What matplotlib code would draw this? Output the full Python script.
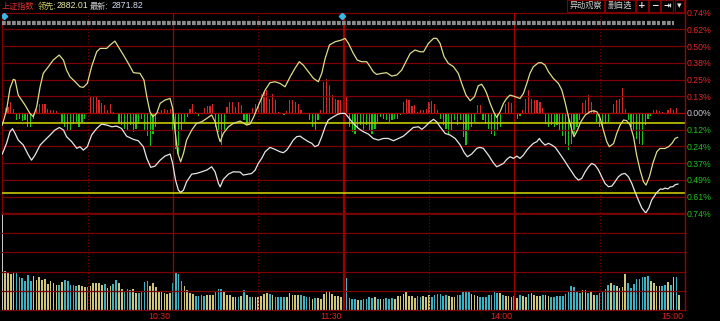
import matplotlib
matplotlib.use('Agg')
import matplotlib.pyplot as plt
import matplotlib.transforms as mtransforms
from matplotlib.patches import Rectangle
from matplotlib.lines import Line2D

# ---------------- data ----------------
index_name = '上证指数'
lead_label, lead_value = '领先:', '2882.01'
last_label, last_value = '最新:', '2871.82'
button_labels = ['异动观察', '删自选']
icon_labels = ['+', '−', '⇥', '▾']

pct_labels = ['0.74%', '0.62%', '0.50%', '0.38%', '0.25%', '0.13%', '0.00%',
              '0.12%', '0.24%', '0.37%', '0.49%', '0.61%', '0.74%']
pct_max = 0.74

time_ticks = [60, 120, 180, 240]
time_labels = ['10:30', '11:30', '14:00', '15:00']
half_hour_ticks = [30, 90, 150, 210]

# leading indicator (yellow) : minute, % change
lead_minutes = [0, 1.5, 2.7, 3.9, 4.5, 5.6, 6.8, 8.0, 9.7, 10.9, 12.1, 13.3, 14.4, 16.2, 17.9, 20.0,
                21.5, 22.6, 23.8, 25.6, 27.3, 28.5, 29.9, 31.4, 33.2, 34.4, 36.7, 37.9, 39.6, 40.8,
                42.6, 44.3, 46.1, 48.4, 49.8, 50.8, 51.9, 52.9, 54.3, 55.5, 57.2, 59.0, 59.9, 60.7,
                61.7, 62.7, 63.7, 64.8, 66.6, 68.3, 70.1, 71.9, 73.6, 74.8, 76.0, 76.6, 77.7, 79.5,
                81.2, 83.6, 85.9, 87.1, 88.3, 90.6, 92.4, 94.1, 95.9, 97.6, 99.4, 101.2, 102.9,
                104.4, 105.8, 107.6, 109.4, 111.1, 112.3, 113.5, 115.0, 117.0, 119.3, 120.5, 121.7,
                123.4, 124.8, 126.3, 128.1, 129.3, 130.4, 131.6, 133.4, 135.1, 136.9, 138.7, 140.4,
                141.6, 143.4, 145.1, 146.9, 148.1, 149.8, 151.6, 152.7, 153.9, 155.3, 156.8, 158.6,
                160.3, 161.5, 163.0, 164.5, 166.0, 167.3, 168.5, 169.5, 170.3, 171.5, 172.7, 173.8,
                175.0, 176.2, 177.3, 178.5, 180.3, 182.0, 183.2, 184.4, 185.5, 186.7, 188.5, 189.6,
                190.8, 192.0, 193.7, 195.5, 196.7, 197.8, 199.0, 200.2, 201.0, 202.2, 203.4, 204.9,
                206.6, 207.8, 209.0, 210.2, 211.3, 212.5, 213.4, 214.9, 216.0, 217.2, 218.4, 219.5,
                220.7, 221.9, 223.0, 224.2, 225.4, 226.3, 227.5, 228.7, 230.1, 231.2, 233.0, 234.2,
                235.4, 236.5, 237.4]
lead_pct = [-0.089, 0.021, 0.181, 0.248, 0.243, 0.132, 0.095, 0.058, -0.003, -0.028, 0.046, 0.193,
            0.292, 0.341, 0.390, 0.427, 0.390, 0.316, 0.267, 0.230, 0.193, 0.189, 0.218, 0.341,
            0.452, 0.476, 0.476, 0.501, 0.530, 0.488, 0.427, 0.366, 0.297, 0.292, 0.243, 0.120,
            0.009, -0.028, -0.003, 0.071, 0.095, 0.107, 0.034, -0.126, -0.298, -0.360, -0.298,
            -0.200, -0.126, -0.077, -0.065, -0.040, -0.015, -0.065, -0.175, -0.212, -0.151,
            -0.102, -0.077, -0.060, -0.089, -0.082, -0.033, 0.083, 0.169, 0.223, 0.230, 0.218,
            0.193, 0.267, 0.329, 0.378, 0.353, 0.304, 0.255, 0.230, 0.292, 0.402, 0.501, 0.525,
            0.538, 0.550, 0.513, 0.439, 0.390, 0.378, 0.378, 0.341, 0.304, 0.284, 0.292, 0.297,
            0.272, 0.280, 0.316, 0.366, 0.439, 0.464, 0.451, 0.451, 0.513, 0.550, 0.550, 0.513,
            0.415, 0.366, 0.341, 0.292, 0.218, 0.132, 0.090, 0.120, 0.200, 0.212, 0.180, 0.144,
            0.071, 0.009, -0.033, 0.009, 0.071, 0.107, 0.132, 0.120, 0.107, 0.144, 0.218, 0.292,
            0.341, 0.370, 0.370, 0.353, 0.304, 0.255, 0.218, 0.169, 0.083, -0.028, -0.126,
            -0.175, -0.126, -0.065, -0.016, 0.009, 0.016, 0.009, -0.040, -0.126, -0.212, -0.249,
            -0.225, -0.151, -0.089, -0.052, -0.057, -0.089, -0.175, -0.311, -0.421, -0.507,
            -0.532, -0.470, -0.372, -0.286, -0.262, -0.262, -0.249, -0.225, -0.188, -0.180]

# index (white) : minute, % change
index_minutes = [0, 1.5, 2.7, 3.6, 4.5, 5.6, 7.4, 9.2, 10.3, 11.5, 13.3, 15.0, 16.8, 18.5, 20.1,
                 21.5, 22.6, 24.4, 26.2, 27.3, 28.5, 29.9, 31.4, 33.2, 34.9, 36.7, 38.5, 40.2,
                 41.9, 43.7, 46.1, 47.8, 49.6, 50.8, 52.2, 53.7, 55.5, 57.2, 59.0, 59.9, 60.9,
                 61.9, 62.7, 63.7, 64.8, 66.6, 68.3, 70.1, 71.9, 73.6, 74.8, 76.0, 76.6, 77.7,
                 79.5, 81.2, 83.6, 84.7, 87.7, 88.9, 90.0, 91.2, 92.4, 94.1, 95.9, 97.6, 98.8,
                 100.0, 101.2, 102.3, 103.5, 104.7, 105.8, 107.6, 108.8, 109.9, 111.1, 112.3,
                 113.5, 114.6, 116.4, 118.1, 119.3, 120.5, 121.7, 123.4, 125.2, 126.9, 128.7,
                 130.4, 132.2, 134.0, 135.7, 137.5, 139.3, 141.0, 142.8, 144.5, 146.3, 147.5,
                 148.6, 150.4, 151.6, 152.7, 153.9, 155.7, 157.4, 159.2, 161.0, 162.4, 163.5,
                 165.0, 166.8, 167.9, 169.1, 170.9, 172.6, 173.8, 175.0, 176.2, 177.3, 178.5,
                 179.7, 180.9, 182.0, 183.2, 184.4, 185.5, 186.7, 187.9, 188.8, 189.6, 190.8,
                 192.0, 193.2, 194.4, 195.5, 196.7, 197.9, 199.0, 200.2, 201.3, 202.5, 203.7,
                 204.9, 206.1, 207.2, 208.4, 209.6, 210.7, 211.9, 213.1, 214.3, 215.4, 216.6,
                 217.8, 218.9, 220.1, 221.3, 222.4, 223.6, 224.8, 226.2, 227.3, 228.3, 229.9,
                 231.3, 232.2, 233.0, 234.0, 234.8, 235.8, 236.5, 237.5]
index_pct = [-0.303, -0.224, -0.138, -0.116, -0.151, -0.200, -0.237, -0.311, -0.348, -0.311,
             -0.237, -0.200, -0.163, -0.126, -0.107, -0.126, -0.175, -0.212, -0.261, -0.249,
             -0.274, -0.249, -0.163, -0.114, -0.082, -0.089, -0.102, -0.097, -0.114, -0.171,
             -0.195, -0.205, -0.249, -0.335, -0.401, -0.392, -0.348, -0.318, -0.303, -0.372,
             -0.495, -0.569, -0.586, -0.569, -0.507, -0.451, -0.446, -0.434, -0.421, -0.397,
             -0.434, -0.520, -0.545, -0.490, -0.451, -0.434, -0.436, -0.458, -0.446, -0.421,
             -0.372, -0.335, -0.286, -0.254, -0.269, -0.286, -0.293, -0.274, -0.237, -0.200,
             -0.175, -0.171, -0.188, -0.212, -0.224, -0.249, -0.237, -0.175, -0.102, -0.052,
             -0.028, -0.008, -0.003, -0.003, -0.033, -0.077, -0.114, -0.138, -0.156, -0.188,
             -0.200, -0.188, -0.188, -0.205, -0.188, -0.171, -0.138, -0.107, -0.102, -0.121,
             -0.102, -0.065, -0.047, -0.065, -0.102, -0.151, -0.163, -0.188, -0.237, -0.293,
             -0.323, -0.303, -0.261, -0.254, -0.261, -0.311, -0.367, -0.397, -0.385, -0.372,
             -0.343, -0.323, -0.335, -0.318, -0.335, -0.311, -0.274, -0.249, -0.224, -0.212,
             -0.188, -0.212, -0.237, -0.224, -0.237, -0.254, -0.286, -0.323, -0.360, -0.397,
             -0.434, -0.470, -0.495, -0.483, -0.434, -0.397, -0.372, -0.385, -0.421, -0.470,
             -0.520, -0.544, -0.539, -0.507, -0.470, -0.451, -0.446, -0.470, -0.520, -0.581,
             -0.642, -0.700, -0.738, -0.700, -0.642, -0.591, -0.561, -0.563, -0.554, -0.560,
             -0.546, -0.543, -0.530, -0.524]

# buy/sell strength per minute (red up / green down)
strength = [11, 5, 6, 11, 4, -7, -6, -8, -7, -14, -14, -6, 4, 9, 9, 9, 4, 3, 3, 2,
            0, -9, -14, -17, -17, -11, -9, -14, -9, -6, 0, 16, 17, 17, 13, 10, 8, 3, 9, 1,
            0, -11, -12, -16, -17, -12, -19, -16, -11, -6, -17, -23, -34, -21, -14, 1, 3, 4, 3, 4,
            -17, -36, -41, -17, -9, -4, 4, 9, 1, -3, 0, 5, 7, 7, 9, -14, -19, -32, -17, 6,
            11, 11, 6, 11, 8, -7, -12, -9, 5, 9, 9, 19, 21, 23, 14, 19, 13, 1, -1, -2,
            2, 13, 13, 11, 9, 3, 0, -1, -7, -14, -17, -7, 3, 31, 34, 28, 18, 14, 13, 13,
            18, 16, -14, -19, -21, -14, -12, -17, -12, -17, -21, -16, -9, -4, -6, -7, -9, -7, -6, -6,
            -2, 11, 14, 13, 7, 8, 1, 3, 3, 4, 11, 12, 9, 3, -6, -12, -16, -21, -17, -7,
            -12, -7, -24, -32, -17, -14, -9, 8, 8, -7, -11, -16, -21, -23, -17, -14, 0, 9, 11, 10,
            6, -6, -3, 3, 14, 23, 14, 13, 13, 11, 5, -11, -14, -12, -14, -12, -17, -23, -31, -37,
            -31, -21, -14, -7, 10, 13, 18, 11, 3, -9, -14, -14, -11, -9, 0, 9, 13, 14, 25, 4,
            -7, -14, -17, -26, -31, -32, -12, -6, -3, 3, 3, 2, 1, -1, 3, 5, 3, 5]

# volume per minute, with direction (w = opening auction, u = up, d = down)
volume = [96,
          39, 37.7, 36, 37, 37, 33.3, 32, 28.7, 34.7, 28.7,
          34, 30, 32.7, 30, 31.3, 26, 29.3, 27, 25, 25,
          28, 29.7, 29, 25, 25, 24.3, 25, 23.7, 23, 23,
          24.3, 27, 26.7, 26.7, 25, 26.3, 22.3, 24, 26.3, 30,
          27, 20.7, 19.3, 20.7, 20, 20.7, 17.3, 17.3, 19.3, 28,
          29, 24.3, 26.7, 22.7, 19.3, 18.3, 16.7, 16, 17, 27,
          37, 36, 29, 23.7, 20, 17, 15.7, 14.3, 14, 15.3,
          14, 14.7, 15, 14.7, 19.3, 21, 20.7, 18.7, 14.7, 15.3,
          13.3, 13, 12.7,
          13.7, 19.7, 15.3, 13, 13, 13, 12.7, 13.7, 15.7, 17,
          15.7, 15, 12.7, 12.7, 13, 13, 12.7, 17.3, 15.3, 15.3,
          15.3, 15, 14, 13, 13, 11.3, 12, 11.7, 11.3, 16,
          19, 18, 16, 14, 14, 12.7, 3, 32, 12, 10.7,
          10.7, 10, 10, 10.7, 11, 12.7, 12, 12.7, 11,
          11, 11, 12, 11, 11.7, 11, 14, 14, 16, 18,
          14, 14, 12, 14, 12.7, 14, 13.3, 15, 12.7, 14.7,
          16, 16, 14, 15, 13.7, 13, 13, 15, 15, 19,
          18, 19, 16, 15, 14,
          12.7, 12.7, 13.3, 14.7, 14.7, 18, 17, 16.7, 14.7, 14,
          14, 13, 14, 12, 14.7, 14, 13, 16, 16.7, 15.3,
          14, 14, 15, 15, 14, 12.7, 13.3, 14, 14, 14,
          15.7, 19.3, 24, 22.7, 19.3, 17.3, 20, 20, 17.3, 19,
          15.3, 14.7, 17.3, 19, 20.7, 25, 26.7, 24.7, 24, 21.7,
          22.7, 36, 26.7, 21.7, 26, 31.3, 31.3, 33.3, 32.7, 34,
          28.7, 26.7, 24, 24, 24, 25, 28, 25, 33.3, 33.3,
          14.7]
volume_dir = ("w" + "uuuu" + "dddddd" + "uuuuuuuuu" + "d" + "u" + "ddddd" + "uuu" + "d" + "uuuuu"
              + "d" + "uu" + "dd" + "uu" + "ddd" + "uu" + "dddd" + "uuuuuuuu" + "dddd" + "uuuu"
              + "dddd" + "uuu" + "ddd" + "uuuuu" + "d"
              + "udud" + "uuuuuu" + "d" + "u" + "dddd" + "uuuuu" + "dddd" + "u" + "d" + "uuuuuuuuuu"
              + "dddd" + "u" + "ddddd" + "u" + "d" + "u" + "dddd" + "uuuuuuuu"
              + "dd" + "uuu" + "dddddd" + "uuu" + "ddddd" + "uuu"
              + "ddddddd" + "u" + "d" + "uuu" + "d" + "u" + "d" + "uu" + "d" + "uuuu" + "d" + "uu"
              + "ddddddddddd" + "uu" + "d" + "uu" + "ddddd" + "u" + "d" + "uuuu" + "dddddddd"
              + "uuuu" + "dd" + "u" + "d" + "u" + "d" + "u")
volume_max = 96

ref_levels = [-0.076, -0.588]
event_minutes = [0.5, 119.5]
event_strip_segments = [(0, 226.0), (226.6, 231.3), (231.9, 236.2)]

# ---------------- figure ----------------
W, H = 720, 321
fig = plt.figure(figsize=(W / 100, H / 100), dpi=100, facecolor='black')


def fx(px):
    return px / W


def fy(py):
    return 1 - py / H


GRID = '#7e0000'
VSOLID = '#a00000'
X_LEFT, X_RIGHT = 2, 685
P_TOP, P_BOT = 12.6, 213.3
V_TOP, V_BOT = 214, 310
XLIM = (-0.1, 240.0)

rect_p = [fx(X_LEFT), fy(P_BOT), (X_RIGHT - X_LEFT) / W, (P_BOT - P_TOP) / H]
axb = fig.add_axes(rect_p, facecolor='black', zorder=0)
ax = fig.add_axes(rect_p, facecolor='none', zorder=1)
axv = fig.add_axes([fx(X_LEFT), fy(V_BOT), (X_RIGHT - X_LEFT) / W, (V_BOT - V_TOP) / H],
                   facecolor='black', zorder=0)

for a in (axb, ax, axv):
    a.set_xlim(*XLIM)
    for s in a.spines.values():
        s.set_visible(False)

# ---- background panel: grid + strength bars
half_px = (P_BOT - P_TOP) / 2
axb.set_ylim(-half_px, half_px)
axb.set_xticks([])
axb.set_yticks([])
for k in range(13):
    f = k / 12
    col = '#b00000' if k == 6 else GRID
    axb.plot([0, 1], [f, f], transform=axb.transAxes, color=col, lw=0.9, clip_on=False)
for m in half_hour_ticks:
    axb.axvline(m, color=GRID, lw=0.8, ls=(0, (1, 2)))
    axv.axvline(m, color=GRID, lw=0.8, ls=(0, (1, 2)))
for m in time_ticks[:-1]:
    w = 1.6 if m == 120 else 0.9
    axb.axvline(m, color=VSOLID, lw=w)
    axv.axvline(m, color=VSOLID, lw=w)
axb.plot([0, 0], [0, 1], transform=axb.transAxes, color=GRID, lw=0.9, clip_on=False)

bar_cols = ['#d42828' if s > 0 else '#18c418' for s in strength]
axb.bar(range(len(strength)), strength, width=0.42, color=bar_cols, linewidth=0)

# ---- foreground: lines, ticks
ax.set_ylim(-pct_max, pct_max)
for lv in ref_levels:
    ax.axhline(lv, color='#c8c800', lw=1.2)
ax.plot(lead_minutes, lead_pct, color='#dcdc8c', lw=0.9)
ax.plot(index_minutes, index_pct, color='#e6e6e6', lw=0.9)
for a, b in event_strip_segments:
    ax.plot([a, b], [0.6655, 0.6655], color='#8c8c8c', lw=3.0, ls=(0, (0.9, 0.3)),
            dash_capstyle='butt', solid_capstyle='butt')
ax.plot(event_minutes, [0.715] * len(event_minutes), 'D', color='#38b8e8', ms=3.2, ls='none')

ticks = [pct_max * k / 6 for k in range(6, -7, -1)]
ax.yaxis.tick_right()
ax.set_yticks(ticks)
ax.set_yticklabels(pct_labels)
ax.set_xticks([])
ax.tick_params(axis='y', length=0, pad=1.5, labelsize=6.3)
for lbl, t in zip(ax.get_yticklabels(), ticks):
    lbl.set_fontfamily(['Liberation Sans', 'DejaVu Sans'])
    lbl.set_color('#e02828' if t > 1e-9 else ('#20c020' if t < -1e-9 else '#c8c8d0'))

# ---- volume panel
axv.set_ylim(0, volume_max)
for k in range(1, 6):
    axv.axhline(volume_max * k / 5, color=GRID, lw=0.9 if k < 5 else 1.3, clip_on=False)
axv.axhline(0, color=GRID, lw=0.9, clip_on=False)
vcol = {'w': '#c8c8c8', 'u': '#cfc67a', 'd': '#3cb2c2'}
axv.bar(range(len(volume)), volume, width=0.58,
        color=[vcol[d] for d in volume_dir], linewidth=0)
axv.set_yticks([])
axv.set_xticks(time_ticks)
axv.set_xticklabels(time_labels)
axv.tick_params(axis='x', length=0, pad=1.5, labelsize=6.3, labelcolor='#e02020')
shift = mtransforms.ScaledTranslation(-2.2 / 100, 0, fig.dpi_scale_trans)
for lbl in axv.get_xticklabels():
    lbl.set_ha('right')
    lbl.set_fontfamily(['Liberation Sans', 'DejaVu Sans'])
    lbl.set_transform(lbl.get_transform() + shift)

# right border
fig.add_artist(Line2D([fx(684.5)] * 2, [fy(0), fy(V_BOT)], transform=fig.transFigure,
                      color=VSOLID, lw=1.0))

# ---- header
CJK = ['Noto Sans CJK SC', 'DejaVu Sans']
NUM = ['Liberation Sans', 'DejaVu Sans']
hy = fy(6)
fig.text(fx(2), hy, index_name, color='#e03030', fontsize=5.9, family=CJK, va='center')
fig.text(fx(37.5), hy, lead_label, color='#d0d060', fontsize=5.9, family=CJK, va='center')
fig.text(fx(56.5), hy, lead_value, color='#e6e6a8', fontsize=6.3, family=NUM, va='center')
fig.text(fx(90), hy, last_label, color='#d0d0d0', fontsize=5.9, family=CJK, va='center')
fig.text(fx(111.5), hy, last_value, color='#d4dcf4', fontsize=6.3, family=NUM, va='center')

boxes = [(567.3, 604.0), (605.0, 635.0), (636.0, 648.3), (649.3, 660.0), (661.0, 673.3), (675.0, 684.0)]
labels = button_labels + icon_labels
for (a, b), t in zip(boxes, labels):
    fig.add_artist(Rectangle((fx(a), fy(11.7)), (b - a) / W, 11.7 / H, transform=fig.transFigure,
                             facecolor='black', edgecolor='#800000', lw=0.8))
    is_icon = t in icon_labels
    fig.text(fx((a + b) / 2), fy(5.8), t, color='#e8e8e8' if is_icon else '#d0d0d0',
             fontsize=6.5 if is_icon else 5.9, family=(['DejaVu Sans'] if is_icon else CJK),
             fontweight='bold' if is_icon else 'normal', ha='center', va='center')

fig.savefig('out.png', dpi=100, facecolor='black')
